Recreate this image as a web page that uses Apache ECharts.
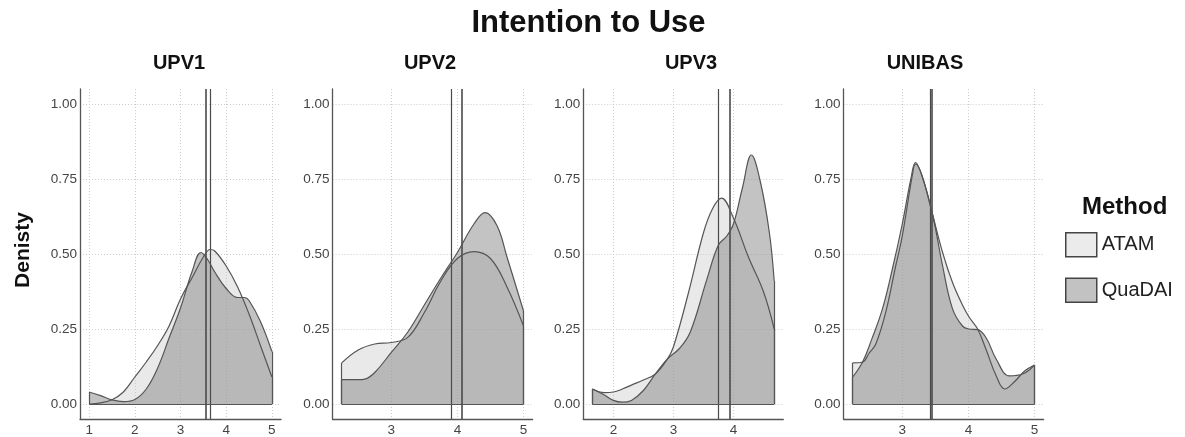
<!DOCTYPE html>
<html><head><meta charset="utf-8">
<script src="https://cdn.jsdelivr.net/npm/echarts@6/dist/echarts.min.js"></script>
<style>html,body{margin:0;padding:0;background:#fff}#c{width:1185px;height:437px}</style>
</head><body><div id="c"></div>
<script>
// ---------- DATA ----------
const panels = ['UPV1', 'UPV2', 'UPV3', 'UNIBAS'];
const methods = ['ATAM', 'QuaDAI'];
const yTicks = [0, 0.25, 0.5, 0.75, 1];
const xTicksUPV1 = [1, 2, 3, 4, 5];
const xTicksUPV2 = [3, 4, 5];
const xTicksUPV3 = [2, 3, 4];
const xTicksUNIBAS = [3, 4, 5];

const upv1AtamX   = [1, 1.25, 1.5, 1.75, 2, 2.25, 2.5, 2.75, 3, 3.25, 3.5, 3.65, 3.75, 4, 4.25, 4.5, 4.75, 5];
const upv1AtamY   = [0.0, 0.004, 0.014, 0.04, 0.09, 0.14, 0.195, 0.26, 0.35, 0.42, 0.49, 0.515, 0.51, 0.46, 0.39, 0.3, 0.195, 0.09];
const upv1QuadaiX = [1, 1.25, 1.5, 1.75, 2, 2.25, 2.5, 2.75, 3, 3.25, 3.45, 3.6, 3.75, 4, 4.25, 4.4, 4.5, 4.75, 5];
const upv1QuadaiY = [0.04, 0.028, 0.014, 0.008, 0.015, 0.05, 0.12, 0.22, 0.32, 0.44, 0.505, 0.48, 0.44, 0.385, 0.355, 0.355, 0.345, 0.275, 0.175];

const upv2AtamX   = [2.25, 2.5, 2.75, 3, 3.25, 3.5, 3.75, 4, 4.25, 4.5, 4.75, 5];
const upv2AtamY   = [0.137, 0.18, 0.2, 0.205, 0.222, 0.305, 0.41, 0.485, 0.508, 0.485, 0.39, 0.26];
const upv2QuadaiX = [2.25, 2.5, 2.6, 2.75, 3, 3.25, 3.5, 3.75, 4, 4.25, 4.42, 4.6, 4.75, 5];
const upv2QuadaiY = [0.081, 0.081, 0.083, 0.105, 0.172, 0.24, 0.33, 0.42, 0.505, 0.6, 0.638, 0.594, 0.49, 0.31];

const upv3AtamX   = [1.65, 1.85, 2, 2.15, 2.3, 2.5, 2.7, 2.9, 3.0, 3.25, 3.5, 3.65, 3.8, 4.0, 4.25, 4.5, 4.68];
const upv3AtamY   = [0.05, 0.038, 0.04, 0.05, 0.063, 0.08, 0.1, 0.15, 0.19, 0.37, 0.57, 0.65, 0.686, 0.62, 0.49, 0.375, 0.25];
const upv3QuadaiX = [1.65, 1.85, 2, 2.15, 2.3, 2.5, 2.7, 2.9, 3.1, 3.28, 3.56, 3.75, 3.89, 4.0, 4.15, 4.3, 4.45, 4.6, 4.68];
const upv3QuadaiY = [0.05, 0.03, 0.012, 0.006, 0.012, 0.045, 0.1, 0.15, 0.185, 0.239, 0.417, 0.53, 0.56, 0.6, 0.72, 0.83, 0.74, 0.57, 0.41];

const unibasAtamX   = [2.25, 2.4, 2.5, 2.6, 2.75, 2.9, 3.0, 3.15, 3.2, 3.3, 3.46, 3.61, 3.76, 3.91, 4.01, 4.14, 4.27, 4.42, 4.55, 4.7, 4.85, 5];
const unibasAtamY   = [0.137, 0.14, 0.17, 0.2, 0.306, 0.46, 0.56, 0.76, 0.8, 0.76, 0.63, 0.505, 0.405, 0.33, 0.29, 0.25, 0.18, 0.094, 0.05, 0.075, 0.11, 0.13];
const unibasQuadaiX = [2.25, 2.4, 2.54, 2.7, 2.85, 3.0, 3.13, 3.2, 3.3, 3.46, 3.61, 3.76, 3.91, 4.01, 4.14, 4.27, 4.42, 4.62, 4.82, 5];
const unibasQuadaiY = [0.09, 0.14, 0.217, 0.317, 0.45, 0.6, 0.75, 0.805, 0.76, 0.63, 0.46, 0.317, 0.26, 0.25, 0.248, 0.22, 0.15, 0.094, 0.1, 0.13];

const atamMeans   = [3.66, 3.90, 3.75, 3.43];
const quadaiMeans = [3.55, 4.06, 3.94, 3.45];

// ---------- LAYOUT / STYLE ----------
const gridLeft  = [80, 332.6, 583.3, 843.6];
const gridWidth = [201, 200, 200, 200];
const stripCenter = [179, 430, 691, 925];
const gridTop = 89, gridHeight = 331;
const FONT = 'Liberation Sans, Arial, sans-serif';
const LINE = '#555555';
const GRIDC = '#cccccc';
const fillColor = { ATAM: 'rgba(200,200,200,0.4)', QuaDAI: 'rgba(136,136,136,0.5)' };
const legendColor = { ATAM: '#ebebeb', QuaDAI: '#c2c2c2' };

const curveX = [[upv1AtamX, upv1QuadaiX], [upv2AtamX, upv2QuadaiX], [upv3AtamX, upv3QuadaiX], [unibasAtamX, unibasQuadaiX]];
const curveY = [[upv1AtamY, upv1QuadaiY], [upv2AtamY, upv2QuadaiY], [upv3AtamY, upv3QuadaiY], [unibasAtamY, unibasQuadaiY]];
const xTicks = [xTicksUPV1, xTicksUPV2, xTicksUPV3, xTicksUNIBAS];
const means = [atamMeans, quadaiMeans];

const zip = (xs, ys) => xs.map((x, i) => [x, ys[i]]);

const grids = [], xAxes = [], yAxes = [], series = [];
const titles = [{
  text: 'Intention to Use', left: 588.5, top: 8, textAlign: 'center', padding: 0,
  textStyle: { fontSize: 31, fontWeight: 'bold', color: '#111', fontFamily: FONT }
}];

// legend dummy series (first so legend takes their icon)
methods.forEach(m => series.push({
  type: 'bar', name: m, data: [], xAxisIndex: 0, yAxisIndex: 0,
  itemStyle: { color: legendColor[m], borderColor: '#444', borderWidth: 1.5 }
}));

panels.forEach((p, i) => {
  const allX = curveX[i][0].concat(curveX[i][1]);
  const xmin = Math.min(...allX), xmax = Math.max(...allX);
  const pad = 0.05 * (xmax - xmin);
  grids.push({ left: gridLeft[i], top: gridTop, width: gridWidth[i], height: gridHeight, containLabel: false });
  xAxes.push({
    type: 'value', gridIndex: i, min: xmin - pad, max: xmax + pad,
    axisLine: { onZero: false, lineStyle: { color: LINE, width: 1.3 } },
    axisTick: { show: false, customValues: xTicks[i] },
    axisLabel: { customValues: xTicks[i], fontSize: 13.5, color: '#444', margin: 4, fontFamily: FONT },
    splitLine: { show: true, lineStyle: { color: GRIDC, type: [1, 2], width: 1 } }
  });
  yAxes.push({
    type: 'value', gridIndex: i, min: -0.05, max: 1.05,
    name: i === 0 ? 'Denisty' : '', nameLocation: 'middle', nameGap: 46,
    nameTextStyle: { fontSize: 21, fontWeight: 'bold', color: '#111', fontFamily: FONT, padding: [0, 0, 0, 8] },
    axisLine: { onZero: false, lineStyle: { color: LINE, width: 1.3 } },
    axisTick: { show: false, customValues: yTicks },
    axisLabel: { customValues: yTicks, fontSize: 13.5, color: '#444', margin: 3, fontFamily: FONT,
      formatter: v => v.toFixed(2) },
    splitLine: { show: true, lineStyle: { color: GRIDC, type: [1, 2], width: 1 } }
  });
  titles.push({
    text: p, left: stripCenter[i], top: 53.5, textAlign: 'center', padding: 0,
    textStyle: { fontSize: 20, fontWeight: 'bold', color: '#111', fontFamily: FONT }
  });
  // fills
  methods.forEach((m, k) => {
    series.push({
      type: 'line', name: m, xAxisIndex: i, yAxisIndex: i, z: 2 + k,
      data: zip(curveX[i][k], curveY[i][k]), smooth: 0.4, symbol: 'none',
      lineStyle: { width: 0, opacity: 0 }, areaStyle: { color: fillColor[m], opacity: 1 },
      silent: true
    });
  });
  // outlines + edges + means
  methods.forEach((m, k) => {
    const xs = curveX[i][k], ys = curveY[i][k];
    const n = xs.length - 1;
    series.push({
      type: 'line', name: m, xAxisIndex: i, yAxisIndex: i, z: 5,
      data: zip(xs, ys), smooth: 0.4, symbol: 'none',
      lineStyle: { color: LINE, width: 1.2 }, silent: true,
      markLine: {
        silent: true, symbol: 'none', label: { show: false }, animation: false,
        lineStyle: { color: LINE, width: 1.2, type: 'solid' },
        data: [
          [{ coord: [xs[0], 0] }, { coord: [xs[0], ys[0]] }],
          [{ coord: [xs[n], 0] }, { coord: [xs[n], ys[n]] }],
          [{ coord: [xs[0], 0] }, { coord: [xs[n], 0] }],
          { xAxis: means[k][i], lineStyle: { color: '#4a4a4a', width: k === 0 ? 1.2 : 1.6, type: 'solid' } }
        ]
      }
    });
  });
});

const option = {
  backgroundColor: '#ffffff',
  animation: false,
  title: titles.concat([{
    text: 'Method', left: 1082, top: 195, padding: 0,
    textStyle: { fontSize: 24, fontWeight: 'bold', color: '#111', fontFamily: FONT }
  }]),
  legend: {
    orient: 'vertical', left: 1065, top: 232, itemWidth: 31, itemHeight: 24, itemGap: 20,
    icon: 'rect', selectedMode: false, padding: 0,
    textStyle: { fontSize: 20, color: '#222', fontFamily: FONT },
    data: methods.map(m => ({ name: m, itemStyle: { color: legendColor[m], borderColor: '#444', borderWidth: 1.5 } }))
  },
  grid: grids, xAxis: xAxes, yAxis: yAxes, series: series
};
const chart = echarts.init(document.getElementById('c'));
chart.setOption(option);
</script></body></html>
